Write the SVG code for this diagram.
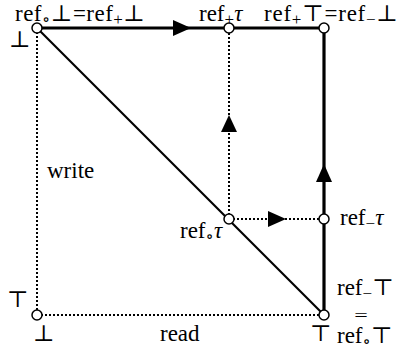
<svg xmlns="http://www.w3.org/2000/svg" width="401" height="350" viewBox="0 0 401 350">
<style>
text{font-family:"Liberation Serif","DejaVu Serif",serif;font-size:23px;fill:#000}
.s{font-size:17px}
.i{font-style:italic}
.thick{stroke:#000;stroke-width:3.2;fill:none}
.diag{stroke:#000;stroke-width:2.2;fill:none}
.dot{stroke:#000;stroke-width:2;stroke-dasharray:2 2;fill:none}
.node{fill:#fff;stroke:#000;stroke-width:1.5}
.ah{fill:#000}
</style>
<rect width="401" height="350" fill="#fff"/>
<g id="connectors">
<line class="dot" x1="37" y1="28" x2="37" y2="315"/>
<line class="dot" x1="37" y1="315" x2="324" y2="315"/>
<line class="dot" x1="229" y1="219" x2="229" y2="28"/>
<line class="dot" x1="229" y1="219" x2="324" y2="219"/>
<line class="diag" x1="37" y1="28" x2="324" y2="315"/>
<line class="thick" x1="37" y1="28" x2="324" y2="28"/>
<line class="thick" x1="324" y1="315" x2="324" y2="28"/>
<polygon class="ah" points="191,28 173,20 173,36"/>
<polygon class="ah" points="229,115 221,132 237,132"/>
<polygon class="ah" points="324,164 316,182 332,182"/>
<polygon class="ah" points="286,219 268,211 268,227"/>
</g>
<g id="n-botbot"><circle class="node" cx="37" cy="28" r="5"/>
<text x="15" y="21" textLength="130" lengthAdjust="spacing">ref<tspan class="s" dy="4">∘</tspan><tspan dy="-4">⊥=ref</tspan><tspan class="s" dy="4">+</tspan><tspan dy="-4">⊥</tspan></text>
<text x="9" y="47">⊥</text></g>
<g id="n-plustau"><circle class="node" cx="229" cy="28" r="5"/>
<text x="199" y="21">ref<tspan class="s" dy="4">+</tspan><tspan class="i" dy="-4">τ</tspan></text></g>
<g id="n-plustop"><circle class="node" cx="324" cy="28" r="5"/>
<text x="264" y="21" textLength="134" lengthAdjust="spacing">ref<tspan class="s" dy="4">+</tspan><tspan dy="-4">⊤=ref</tspan><tspan class="s" dy="4">−</tspan><tspan dy="-4">⊥</tspan></text></g>
<g id="n-circtau"><circle class="node" cx="229" cy="219" r="5"/>
<text x="180" y="238">ref<tspan class="s" dy="4">∘</tspan><tspan class="i" dy="-4">τ</tspan></text></g>
<g id="n-minustau"><circle class="node" cx="324" cy="219" r="5"/>
<text x="340" y="225">ref<tspan class="s" dy="4">−</tspan><tspan class="i" dy="-4">τ</tspan></text></g>
<g id="n-origin"><circle class="node" cx="37" cy="315" r="5"/>
<text x="7" y="307">⊤</text>
<text x="33" y="341">⊥</text></g>
<g id="n-topbot"><circle class="node" cx="324" cy="315" r="5"/>
<text x="310" y="341">⊤</text>
<text x="337" y="295">ref<tspan class="s" dy="4">−</tspan><tspan dy="-4">⊤</tspan></text>
<text transform="translate(361,321) scale(1.5,1)" text-anchor="middle" style="font-size:16px">=</text>
<text x="337" y="343">ref<tspan class="s" dy="4">∘</tspan><tspan dy="-4">⊤</tspan></text></g>
<text x="47" y="178">write</text>
<text x="160" y="341">read</text>
</svg>
